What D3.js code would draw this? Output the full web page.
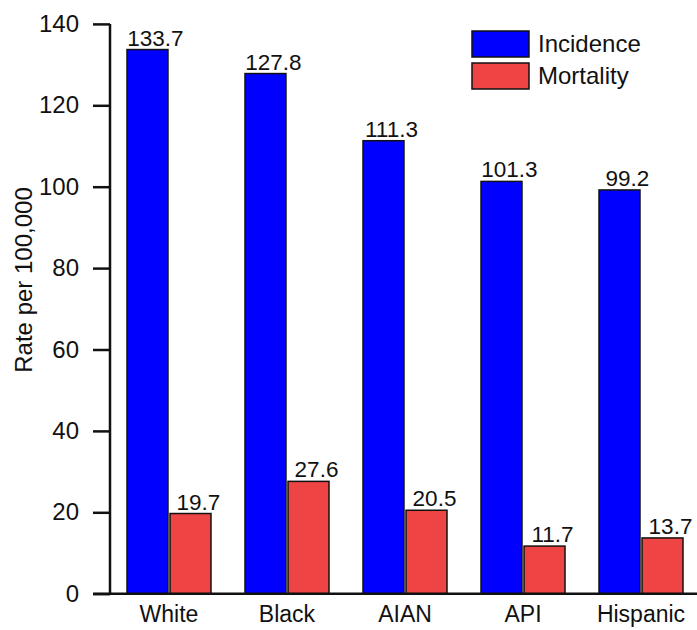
<!DOCTYPE html>
<html><head><meta charset="utf-8">
<script src="https://cdn.jsdelivr.net/npm/d3@7"></script>
<style>body{margin:0;background:#fff}svg{display:block}text{font-family:Arial,"Liberation Sans",sans-serif;fill:#111}</style>
</head><body>
<script>
const categories = ["White","Black","AIAN","API","Hispanic"];
const seriesNames = ["Incidence","Mortality"];
const incidence = [133.7,127.8,111.3,101.3,99.2];
const mortality = [19.7,27.6,20.5,11.7,13.7];
const yTicks = [0,20,40,60,80,100,120,140];
const colors = ["#0000FF","#EF4444"];

const W=697,H=630;
const svg=d3.select("body").append("svg").attr("width",W).attr("height",H);
const x0=110, yTop=23.9, yBase=593.7;
const x=d3.scaleBand().domain(categories).range([x0,x0+5*118]).paddingInner(34/118).paddingOuter(0.144);
const xs=d3.scaleBand().domain(seriesNames).range([0,x.bandwidth()]).paddingInner(4/84);
const y=d3.scaleLinear().domain([0,140]).range([yBase,yTop]);

const data=categories.map((c,i)=>({cat:c,vals:[incidence[i],mortality[i]]}));
const g=svg.append("g");
data.forEach(d=>{
  d.vals.forEach((v,j)=>{
    const bx=x(d.cat)+xs(seriesNames[j]);
    g.append("rect").attr("x",bx).attr("y",y(v)).attr("width",xs.bandwidth()).attr("height",y(0)-y(v))
      .attr("fill",colors[j]).attr("stroke","#111").attr("stroke-width",1.5);
    g.append("text").attr("x",bx+xs.bandwidth()/2+8).attr("y",y(v)-4).attr("text-anchor","middle")
      .attr("font-size",22.5).text(v.toFixed(1));
  });
});

const ff="Arial, 'Liberation Sans', sans-serif";
// y axis
const ya=svg.append("g").attr("transform",`translate(${x0},0)`)
  .call(d3.axisLeft(y).tickValues(yTicks).tickSize(17).tickPadding(14));
ya.select(".domain").remove();
ya.append("line").attr("x1",0).attr("x2",0).attr("y1",yTop).attr("y2",yBase).attr("stroke","#111").attr("stroke-width",2.5);
ya.selectAll(".tick line").attr("stroke","#111").attr("stroke-width",2.5);
ya.selectAll(".tick text").attr("font-size",24).attr("fill","#111").style("font-family",ff);

// x axis
const xa=svg.append("g").attr("transform",`translate(0,${yBase})`)
  .call(d3.axisBottom(x).tickSize(0).tickPadding(12));
xa.select(".domain").remove();
xa.append("line").attr("x1",93).attr("x2",W).attr("y1",0).attr("y2",0).attr("stroke","#111").attr("stroke-width",2.5);
xa.selectAll(".tick text").attr("font-size",23).attr("fill","#111").style("font-family",ff);

svg.append("text").attr("transform",`translate(32,280) rotate(-90)`).attr("text-anchor","middle")
  .attr("font-size",24).text("Rate per 100,000");

// legend
const lg=svg.append("g");
seriesNames.forEach((s,i)=>{
  lg.append("rect").attr("x",472).attr("y",31+i*32).attr("width",57).attr("height",26)
    .attr("fill",colors[i]).attr("stroke","#111").attr("stroke-width",1.5);
  lg.append("text").attr("x",538).attr("y",44+i*32).attr("dy","0.35em").attr("font-size",24).text(s);
});
</script>
</body></html>
